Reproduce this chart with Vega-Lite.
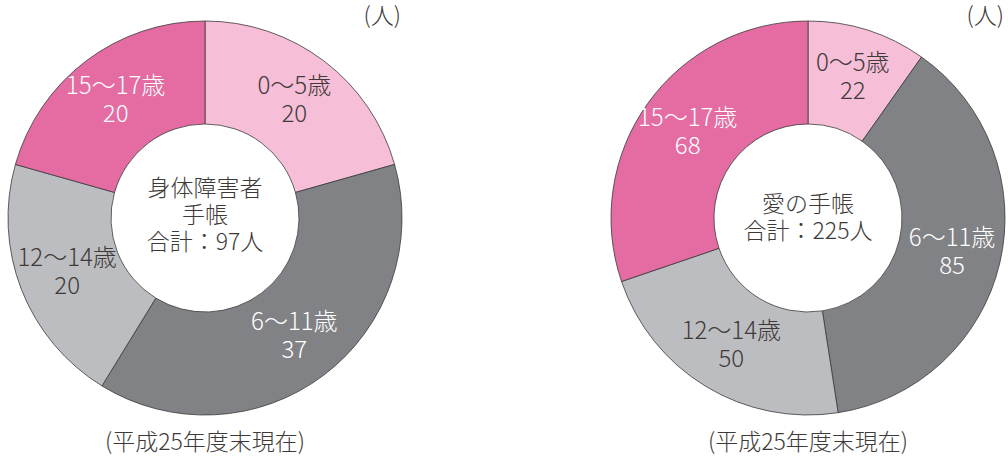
{
  "$schema": "https://vega.github.io/schema/vega-lite/v6.json",
  "padding": {"left": 5, "top": 0, "right": 0, "bottom": 0},
  "spacing": 203,
  "datasets": {
    "ages": [
      {"chart": "身体障害者手帳", "no": 1, "age": "0〜5歳", "count": 20},
      {"chart": "身体障害者手帳", "no": 2, "age": "6〜11歳", "count": 37},
      {"chart": "身体障害者手帳", "no": 3, "age": "12〜14歳", "count": 20},
      {"chart": "身体障害者手帳", "no": 4, "age": "15〜17歳", "count": 20},
      {"chart": "愛の手帳", "no": 1, "age": "0〜5歳", "count": 22},
      {"chart": "愛の手帳", "no": 2, "age": "6〜11歳", "count": 85},
      {"chart": "愛の手帳", "no": 3, "age": "12〜14歳", "count": 50},
      {"chart": "愛の手帳", "no": 4, "age": "15〜17歳", "count": 68}
    ],
    "unit": [{"unit": "(人)"}]
  },
  "hconcat": [
    {
      "width": 400,
      "height": 436,
      "title": {"text": "(平成25年度末現在)", "orient": "bottom", "frame": "group", "offset": -4},
      "layer": [
        {
          "data": {"name": "ages"},
          "transform": [{"filter": {"field": "chart", "equal": "身体障害者手帳"}}],
          "encoding": {
            "theta": {"field": "count", "type": "quantitative", "stack": "normalize"},
            "order": {"field": "no", "type": "quantitative"},
            "color": {
              "field": "age", "type": "nominal", "legend": null,
              "scale": {"domain": ["0〜5歳", "6〜11歳", "12〜14歳", "15〜17歳"], "range": ["#f6bed7", "#818285", "#bcbdc0", "#e46ca2"]}
            }
          },
          "layer": [
            {"mark": {"type": "arc", "outerRadius": 197, "innerRadius": 94, "stroke": "#3a3a3a", "strokeWidth": 0.8}},
            {
              "mark": {"type": "text", "radius": 148, "dy": -13, "fontSize": 24, "fontWeight": 300},
              "encoding": {
                "text": {"field": "age", "type": "nominal"},
                "color": {"condition": {"test": {"field": "age", "oneOf": ["6〜11歳", "15〜17歳"]}, "value": "#ffffff"}, "value": "#3e3a39"}
              }
            },
            {
              "mark": {"type": "text", "radius": 148, "dy": 15, "fontSize": 24, "fontWeight": 300},
              "encoding": {
                "text": {"field": "count", "type": "quantitative"},
                "color": {"condition": {"test": {"field": "age", "oneOf": ["6〜11歳", "15〜17歳"]}, "value": "#ffffff"}, "value": "#3e3a39"}
              }
            }
          ]
        },
        {
          "data": {"name": "unit"},
          "mark": {"type": "text", "text": ["身体障害者", "手帳", "合計：97人"], "lineHeight": 27, "fontSize": 23, "fontWeight": 300, "dy": -29, "color": "#3e3a39"},
          "encoding": {}
        },
        {
          "data": {"name": "unit"},
          "mark": {"type": "text", "x": "width", "y": 0, "dx": -4, "dy": 6, "align": "right", "baseline": "top", "fontSize": 23, "fontWeight": 300, "color": "#3e3a39"},
          "encoding": {"text": {"field": "unit", "type": "nominal"}}
        }
      ]
    },
    {
      "width": 400,
      "height": 436,
      "title": {"text": "(平成25年度末現在)", "orient": "bottom", "frame": "group", "offset": -4},
      "layer": [
        {
          "data": {"name": "ages"},
          "transform": [{"filter": {"field": "chart", "equal": "愛の手帳"}}],
          "encoding": {
            "theta": {"field": "count", "type": "quantitative", "stack": "normalize"},
            "order": {"field": "no", "type": "quantitative"},
            "color": {
              "field": "age", "type": "nominal", "legend": null,
              "scale": {"domain": ["0〜5歳", "6〜11歳", "12〜14歳", "15〜17歳"], "range": ["#f6bed7", "#818285", "#bcbdc0", "#e46ca2"]}
            }
          },
          "layer": [
            {"mark": {"type": "arc", "outerRadius": 197, "innerRadius": 94, "stroke": "#3a3a3a", "strokeWidth": 0.8}},
            {
              "mark": {"type": "text", "radius": 148, "dy": -13, "fontSize": 24, "fontWeight": 300},
              "encoding": {
                "text": {"field": "age", "type": "nominal"},
                "color": {"condition": {"test": {"field": "age", "oneOf": ["6〜11歳", "15〜17歳"]}, "value": "#ffffff"}, "value": "#3e3a39"}
              }
            },
            {
              "mark": {"type": "text", "radius": 148, "dy": 15, "fontSize": 24, "fontWeight": 300},
              "encoding": {
                "text": {"field": "count", "type": "quantitative"},
                "color": {"condition": {"test": {"field": "age", "oneOf": ["6〜11歳", "15〜17歳"]}, "value": "#ffffff"}, "value": "#3e3a39"}
              }
            }
          ]
        },
        {
          "data": {"name": "unit"},
          "mark": {"type": "text", "text": ["愛の手帳", "合計：225人"], "lineHeight": 27, "fontSize": 23, "fontWeight": 300, "dy": -13, "color": "#3e3a39"},
          "encoding": {}
        },
        {
          "data": {"name": "unit"},
          "mark": {"type": "text", "x": "width", "y": 0, "dx": -4, "dy": 6, "align": "right", "baseline": "top", "fontSize": 23, "fontWeight": 300, "color": "#3e3a39"},
          "encoding": {"text": {"field": "unit", "type": "nominal"}}
        }
      ]
    }
  ],
  "config": {
    "view": {"stroke": null},
    "font": "Noto Sans CJK JP",
    "title": {"fontSize": 23, "fontWeight": 300, "color": "#3e3a39", "font": "Noto Sans CJK JP"}
  }
}
